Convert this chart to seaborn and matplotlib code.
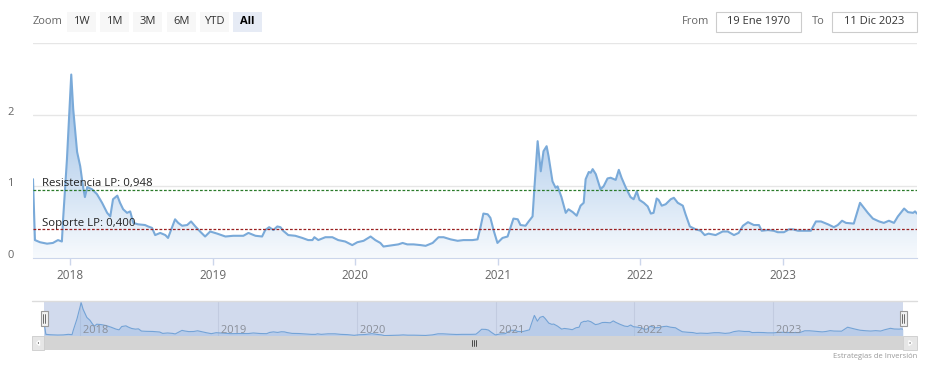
import numpy as np
import pandas as pd
import matplotlib
matplotlib.use("Agg")
import matplotlib.pyplot as plt
import matplotlib.dates as mdates
from matplotlib.colors import LinearSegmentedColormap
from matplotlib.patches import Rectangle, Polygon
import seaborn as sns

# datos
fechas = [
    "2017-09-28", "2017-10-03", "2017-10-16", "2017-11-03", "2017-11-18", "2017-12-01",
    "2017-12-11", "2017-12-14", "2017-12-24", "2018-01-04", "2018-01-09", "2018-01-19",
    "2018-01-27", "2018-02-03", "2018-02-08", "2018-02-14", "2018-02-26", "2018-03-11",
    "2018-03-24", "2018-04-06", "2018-04-14", "2018-04-21", "2018-05-02", "2018-05-09",
    "2018-05-17", "2018-05-27", "2018-06-04", "2018-06-12", "2018-06-24", "2018-07-12",
    "2018-07-20", "2018-07-30", "2018-08-07", "2018-08-20", "2018-09-02", "2018-09-09",
    "2018-09-20", "2018-09-27", "2018-10-05", "2018-10-15", "2018-10-28", "2018-11-07",
    "2018-11-18", "2018-11-30", "2018-12-13", "2018-12-26", "2019-01-13", "2019-02-03",
    "2019-02-23", "2019-03-21", "2019-04-03", "2019-04-21", "2019-05-08", "2019-05-16",
    "2019-05-26", "2019-06-06", "2019-06-16", "2019-06-24", "2019-07-01", "2019-07-14",
    "2019-08-01", "2019-08-19", "2019-09-03", "2019-09-14", "2019-09-19", "2019-09-29",
    "2019-10-17", "2019-11-04", "2019-11-19", "2019-12-07", "2019-12-25", "2020-01-07",
    "2020-01-23", "2020-02-10", "2020-02-22", "2020-03-06", "2020-03-14", "2020-03-27",
    "2020-04-09", "2020-04-21", "2020-05-02", "2020-05-14", "2020-05-30", "2020-06-17",
    "2020-06-30", "2020-07-18", "2020-08-02", "2020-08-15", "2020-09-02", "2020-09-20",
    "2020-10-05", "2020-10-28", "2020-11-10", "2020-11-18", "2020-11-25", "2020-12-06",
    "2020-12-13", "2020-12-21", "2020-12-31", "2021-01-13", "2021-01-26", "2021-02-10",
    "2021-02-21", "2021-02-28", "2021-03-13", "2021-03-21", "2021-03-31", "2021-04-05",
    "2021-04-13", "2021-04-21", "2021-04-28", "2021-05-06", "2021-05-11", "2021-05-21",
    "2021-05-29", "2021-06-03", "2021-06-13", "2021-06-24", "2021-07-01", "2021-07-12",
    "2021-07-22", "2021-08-01", "2021-08-09", "2021-08-14", "2021-08-22", "2021-08-27",
    "2021-09-01", "2021-09-09", "2021-09-21", "2021-09-29", "2021-10-09", "2021-10-17",
    "2021-10-30", "2021-11-07", "2021-11-14", "2021-11-25", "2021-12-07", "2021-12-15",
    "2021-12-23", "2021-12-30", "2022-01-10", "2022-01-20", "2022-01-28", "2022-02-04",
    "2022-02-12", "2022-02-17", "2022-02-25", "2022-03-07", "2022-03-20", "2022-03-28",
    "2022-04-07", "2022-04-20", "2022-04-27", "2022-05-08", "2022-05-23", "2022-06-05",
    "2022-06-15", "2022-06-25", "2022-07-13", "2022-07-31", "2022-08-13", "2022-08-29",
    "2022-09-10", "2022-09-21", "2022-10-04", "2022-10-19", "2022-11-01", "2022-11-08",
    "2022-11-24", "2022-12-09", "2022-12-19", "2023-01-04", "2023-01-17", "2023-01-27",
    "2023-02-09", "2023-02-24", "2023-03-14", "2023-03-27", "2023-04-09", "2023-04-27",
    "2023-05-12", "2023-05-22", "2023-06-02", "2023-06-12", "2023-07-02", "2023-07-18",
    "2023-07-28", "2023-08-07", "2023-08-20", "2023-09-05", "2023-09-17", "2023-09-30",
    "2023-10-13", "2023-10-23", "2023-11-08", "2023-11-18", "2023-12-01", "2023-12-06",
    "2023-12-11",
]
valores = [
    1.10, 0.25, 0.22, 0.20, 0.21, 0.25,
    0.23, 0.53, 1.38, 2.56, 2.08, 1.48,
    1.28, 1.00, 0.85, 0.99, 0.96, 0.89,
    0.77, 0.63, 0.58, 0.82, 0.87, 0.77,
    0.68, 0.63, 0.65, 0.49, 0.47, 0.46,
    0.44, 0.42, 0.32, 0.35, 0.32, 0.28,
    0.44, 0.54, 0.49, 0.45, 0.46, 0.51,
    0.44, 0.37, 0.30, 0.37, 0.34, 0.30,
    0.31, 0.31, 0.35, 0.31, 0.30, 0.39,
    0.43, 0.39, 0.44, 0.43, 0.38, 0.32,
    0.31, 0.28, 0.25, 0.25, 0.29, 0.25,
    0.29, 0.29, 0.25, 0.23, 0.18, 0.22,
    0.24, 0.30, 0.25, 0.21, 0.16, 0.17,
    0.18, 0.19, 0.21, 0.19, 0.19, 0.18,
    0.17, 0.21, 0.29, 0.29, 0.26, 0.24,
    0.25, 0.25, 0.26, 0.44, 0.62, 0.61,
    0.56, 0.39, 0.21, 0.28, 0.30, 0.55,
    0.54, 0.46, 0.45, 0.51, 0.58, 1.00,
    1.63, 1.21, 1.49, 1.56, 1.42, 1.07,
    0.98, 1.00, 0.85, 0.63, 0.68, 0.64,
    0.59, 0.73, 0.77, 1.10, 1.20, 1.19,
    1.24, 1.17, 0.96, 1.00, 1.11, 1.12,
    1.09, 1.23, 1.12, 0.98, 0.85, 0.82,
    0.93, 0.81, 0.77, 0.72, 0.62, 0.63,
    0.83, 0.81, 0.73, 0.75, 0.82, 0.84,
    0.77, 0.73, 0.61, 0.44, 0.40, 0.38,
    0.32, 0.34, 0.32, 0.37, 0.37, 0.32,
    0.35, 0.45, 0.50, 0.46, 0.46, 0.38,
    0.39, 0.38, 0.36, 0.36, 0.40, 0.40,
    0.38, 0.38, 0.38, 0.51, 0.51, 0.47,
    0.43, 0.46, 0.52, 0.49, 0.48, 0.77,
    0.70, 0.63, 0.55, 0.51, 0.49, 0.52,
    0.49, 0.58, 0.69, 0.64, 0.63, 0.65,
    0.62,
]
resistencia = 0.948
soporte = 0.400
anios = ["2018", "2019", "2020", "2021", "2022", "2023"]
botones = ["1W", "1M", "3M", "6M", "YTD", "All"]
desde = "19 Ene 1970"
hasta = "11 Dic 2023"

sns.set_style("white")
plt.rcParams['font.family'] = ['Open Sans', 'DejaVu Sans']

df = pd.DataFrame({"fecha": pd.to_datetime(fechas), "valor": valores})
xn = mdates.date2num(df["fecha"])
ticks_anio = pd.to_datetime([a + "-01-01" for a in anios])

W, H = 945, 368
fig = plt.figure(figsize=(W / 100, H / 100), dpi=100)


def caja(l, t, r, b):
    return [l / W, 1 - b / H, (r - l) / W, (b - t) / H]


# grafico principal
ax = fig.add_axes(caja(33, 43, 917, 258))
relleno = ax.fill_between(xn, valores, 0, color="none", lw=0)
grad = np.linspace(1, 0, 256).reshape(-1, 1)
cmap = LinearSegmentedColormap.from_list("azul", ["#f7fafd", "#84b0e0"])
im = ax.imshow(grad, extent=[xn[0], xn[-1], 0, 3], aspect="auto", cmap=cmap,
               origin="upper", zorder=1)
im.set_clip_path(relleno.get_paths()[0], transform=ax.transData)
sns.lineplot(x=xn, y=df["valor"], color="#7aaad9", linewidth=1.5, ax=ax, zorder=3)

ax.axhline(resistencia, color="#2a7a2a", lw=0.9, ls=(0, (2.2, 1.4)), zorder=4)
ax.axhline(soporte, color="#9a2020", lw=0.9, ls=(0, (2.2, 1.4)), zorder=4)
ax.annotate("Resistencia LP: 0,948", xy=(9 / 884, resistencia),
            xycoords=("axes fraction", "data"), xytext=(0, 0.5),
            textcoords="offset points", va="bottom", ha="left",
            fontsize=8.2, color="#222222", zorder=5)
ax.annotate("Soporte LP: 0,400", xy=(9 / 884, soporte),
            xycoords=("axes fraction", "data"), xytext=(0, 0.5),
            textcoords="offset points", va="bottom", ha="left",
            fontsize=8.2, color="#222222", zorder=5)

ax.set_xlim(xn[0], xn[-1])
ax.set_ylim(0, 3)
ax.set_yticks([0, 1, 2, 3])
ax.set_yticklabels(["0", "1", "2", ""])
for t in ax.get_yticklabels():
    t.set_va("baseline")
ax.set_xticks(mdates.date2num(ticks_anio))
ax.set_xticklabels(anios)
ax.tick_params(axis="y", length=0, pad=14, labelsize=8, labelcolor="#666666")
ax.tick_params(axis="x", length=5, width=1, color="#ccd6eb", pad=3,
               labelsize=8.5, labelcolor="#666666", bottom=True)
ax.yaxis.grid(True, color="#e6e6e6", lw=1)
ax.xaxis.grid(False)
for s in ["top", "right", "left"]:
    ax.spines[s].set_visible(False)
ax.spines["bottom"].set_color("#ccd6eb")
ax.set_xlabel("")
ax.set_ylabel("")

# navegador
nav = fig.add_axes(caja(44, 301, 903, 336))
nav.set_facecolor("#d1daed")
sns.lineplot(x=xn, y=df["valor"], color="#74a3d6", linewidth=0.8, ax=nav, zorder=3)
nav.fill_between(xn, valores, 0, color="#8db4e2", alpha=0.35, lw=0, zorder=2)
nav.set_xlim(xn[0], xn[-1])
nav.set_ylim(min(valores) - 0.03, max(valores) + 0.12)
for fx, a in zip(mdates.date2num(ticks_anio), anios):
    nav.axvline(fx, color="#c2cbe0", lw=0.8, zorder=1)
    nav.text(fx, 0.17, " " + a, transform=nav.get_xaxis_transform(),
             fontsize=8, color="#8a8f99", ha="left", va="center", zorder=4)
nav.set_xticks([])
nav.set_yticks([])
nav.set_xlabel("")
nav.set_ylabel("")
for s in nav.spines.values():
    s.set_visible(False)

# capa de interfaz en pixeles
ui = fig.add_axes([0, 0, 1, 1], zorder=10)
ui.set_xlim(0, W)
ui.set_ylim(H, 0)
ui.axis("off")
ui.patch.set_alpha(0)

ui.plot([32, 917], [301, 301], color="#dcdcdc", lw=1)

# scrollbar
ui.add_patch(Rectangle((32, 336), 885, 14, facecolor="#f2f2f2", edgecolor="none"))
ui.add_patch(Rectangle((44, 336), 859, 14, facecolor="#d4d4d4", edgecolor="none"))
ui.add_patch(Rectangle((32, 336), 12, 14, facecolor="#e6e6e6", edgecolor="#cccccc", lw=0.6))
ui.add_patch(Rectangle((903, 336), 14, 14, facecolor="#e6e6e6", edgecolor="#cccccc", lw=0.6))
ui.add_patch(Polygon([[39.5, 340.5], [39.5, 345.5], [36.5, 343]], facecolor="#333333"))
ui.add_patch(Polygon([[909, 340.5], [909, 345.5], [912, 343]], facecolor="#333333"))
for gx in [472, 474, 476]:
    ui.plot([gx, gx], [340, 346], color="#333333", lw=0.6)

# asas del navegador
for hx in [44, 903]:
    ui.add_patch(Rectangle((hx - 3.5, 311), 7, 15, facecolor="#f2f2f2",
                           edgecolor="#999999", lw=0.8))
    ui.plot([hx - 1, hx - 1], [314, 323], color="#333333", lw=0.5)
    ui.plot([hx + 1, hx + 1], [314, 323], color="#333333", lw=0.5)

ui.text(917, 357, "Estrategias de Inversión", ha="right", va="center",
        fontsize=5.5, color="#999999")

# barra de zoom
ui.text(33, 22, "Zoom", ha="left", va="center", fontsize=8, color="#666666")
bx = [67, 100, 133, 167, 200, 233]
for x0, b in zip(bx, botones):
    sel = b == "All"
    ui.add_patch(Rectangle((x0, 12), 29, 20,
                           facecolor="#e6ebf5" if sel else "#f7f7f7", edgecolor="none"))
    ui.text(x0 + 14.5, 22, b, ha="center", va="center", fontsize=8,
            color="#000000" if sel else "#333333",
            fontweight="bold" if sel else "normal")

ui.text(682, 22, "From", ha="left", va="center", fontsize=8, color="#666666")
ui.add_patch(Rectangle((716, 12), 85, 20, facecolor="white", edgecolor="#cccccc", lw=0.8))
ui.text(758.5, 22, desde, ha="center", va="center", fontsize=8, color="#333333")
ui.text(812, 22, "To", ha="left", va="center", fontsize=8, color="#666666")
ui.add_patch(Rectangle((832, 12), 85, 20, facecolor="white", edgecolor="#cccccc", lw=0.8))
ui.text(874.5, 22, hasta, ha="center", va="center", fontsize=8, color="#333333")

fig.savefig("out.png", dpi=100)
